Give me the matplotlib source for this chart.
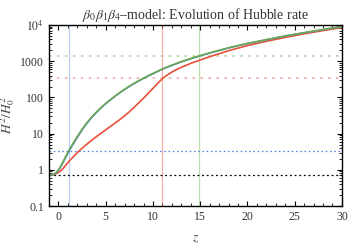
import matplotlib
matplotlib.use("Agg")
import matplotlib.pyplot as plt
from matplotlib.ticker import FixedLocator, LogLocator, NullFormatter, MultipleLocator

# ---- data ----
z_pts = [-1, -0.75, -0.5, -0.25, 0, 0.25, 0.5, 0.75, 1, 1.25, 1.5, 1.75, 2, 2.5, 3, 3.5, 4, 4.5,
         5, 5.5, 6, 6.5, 7, 7.5, 8, 8.5, 9, 9.5, 10, 10.5, 11, 11.5, 12, 12.5, 13, 14, 15, 16, 18, 20,
         22, 24, 26, 28, 30]
h_green = [0.73, 0.735, 0.76, 0.84, 1.0, 1.28, 1.7, 2.3, 3.05, 4.0, 5.15, 6.6, 8.4, 13.2, 19.8,
           28.5, 39, 52, 68, 87, 110, 137, 168, 204, 245, 290, 340, 397, 460, 530, 610, 693,
           780, 872, 970, 1190, 1430, 1700, 2350, 3100, 3950, 5000, 6150, 7500, 9100]
h_blue = [0.73, 0.733, 0.755, 0.82, 0.97, 1.22, 1.6, 2.15, 2.85, 3.75, 4.85, 6.2, 7.9, 12.6,
          19.0, 27.5, 38, 51, 67, 85, 108, 134, 165, 200, 240, 285, 334, 390, 452, 521, 600,
          681, 767, 858, 955, 1170, 1410, 1675, 2320, 3060, 3900, 4940, 6080, 7420, 9020]
h_red = [0.73, 0.733, 0.745, 0.78, 0.84, 0.95, 1.1, 1.32, 1.58, 1.87, 2.2, 2.57, 3.0, 3.95, 5.1,
         6.5, 8.2, 10.2, 12.7, 15.8, 19.6, 24.5, 31, 40, 53, 71, 95, 130, 178, 245, 330, 415,
         500, 590, 680, 870, 1080, 1330, 1950, 2700, 3550, 4550, 5700, 7000, 8500]

vlines_z = [1.1, 11.0, 14.9]
hline_black = 0.73
hline_blue = 3.35
hline_red = 350
hline_green = 1420

xticks = [0, 5, 10, 15, 20, 25, 30]
yticks = [0.1, 1, 10, 100, 1000, 10000]
ytick_labels = ["0.1", "1", "10", "100", "1000", r"$10^4$"]

c_blue = "#5a86e0"
c_red = "#e8503a"
c_green = "#6aa84f"

plt.rcParams['font.family'] = ['Liberation Serif', 'DejaVu Serif']
plt.rcParams['mathtext.fontset'] = 'stix'

fig = plt.figure(figsize=(3.5, 2.45), dpi=100)
ax = fig.add_axes([0.14, 0.159, 0.837, 0.739])

ax.set_yscale('log')
ax.set_xlim(-1, 30)
ax.set_ylim(0.1, 10000)

# vertical reference lines
ax.axvline(vlines_z[0], color=c_blue, alpha=0.4, lw=0.9)
ax.axvline(vlines_z[1], color=c_red, alpha=0.45, lw=0.9)
ax.axvline(vlines_z[2], color="#8cc46a", alpha=0.55, lw=0.9)

# horizontal dotted lines
ax.axhline(hline_black, color='black', lw=0.9, ls=(0, (1.5, 2.2)))
ax.axhline(hline_blue, color="#4a7ae8", lw=0.9, ls=(0, (1.2, 2.2)))
ax.axhline(hline_red, color=c_red, alpha=0.4, lw=1.4, ls=(0, (1.3, 2.8)))
ax.axhline(hline_green, color="#8cc46a", alpha=0.6, lw=1.4, ls=(0, (1.3, 2.8)))

ax.plot(z_pts, h_red, color=c_red, lw=1.2, solid_capstyle='round')
ax.plot(z_pts, h_blue, color=c_blue, lw=1.2, solid_capstyle='round')
ax.plot(z_pts, h_green, color=c_green, lw=1.2, solid_capstyle='round')

ax.xaxis.set_major_locator(FixedLocator(xticks))
ax.xaxis.set_minor_locator(MultipleLocator(1))
ax.set_yticks(yticks)
ax.set_yticklabels(ytick_labels)
ax.yaxis.set_minor_locator(LogLocator(base=10, subs=range(2, 10), numticks=20))
ax.yaxis.set_minor_formatter(NullFormatter())

ax.tick_params(which='both', direction='in', top=True, right=True, labelsize=8.5, colors='black', labelcolor='#333333')
ax.tick_params(which='major', length=3.5, width=0.8)
ax.tick_params(which='minor', length=2, width=0.6)
for s in ax.spines.values():
    s.set_linewidth(1.0)

ax.set_xlabel(r"$z$", fontsize=9.5, color='#444444', labelpad=7)
ax.set_ylabel(r"$H^2/H_0^2$", fontsize=9.5, color='#444444', labelpad=2)
ax.set_title(r"$\beta_0\beta_1\beta_4$–model: Evolution of Hubble rate", fontsize=10, color='#333333', pad=4)

fig.savefig("out.png", dpi=100)
